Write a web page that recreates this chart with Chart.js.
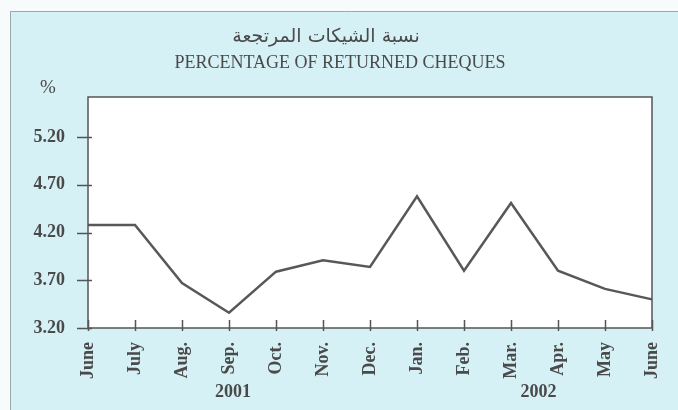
<!DOCTYPE html>
<html>
<head>
<meta charset="utf-8">
<script src="https://cdn.jsdelivr.net/npm/chart.js@4/dist/chart.umd.min.js"></script>
<style>
  html, body { margin: 0; padding: 0; background: #f7fbfb; }
  #wrap { width: 678px; height: 410px; }
</style>
</head>
<body>
<div id="wrap"><canvas id="myChart" width="678" height="410"></canvas></div>
<script>
'use strict';

// data
let months = [ 'June', 'July', 'Aug.', 'Sep.', 'Oct.', 'Nov.', 'Dec.', 'Jan.', 'Feb.', 'Mar.', 'Apr.', 'May', 'June' ];
let monthYears = [ 2001, 2001, 2001, 2001, 2001, 2001, 2001, 2002, 2002, 2002, 2002, 2002, 2002 ];
let returned = [ 4.28, 4.28, 3.67, 3.36, 3.79, 3.91, 3.84, 4.58, 3.80, 4.51, 3.80, 3.61, 3.50 ];
let yTicks = [ 3.20, 3.70, 4.20, 4.70, 5.20 ];
let titleAr = 'نسبة الشيكات المرتجعة';
let titleEn = 'PERCENTAGE OF RETURNED CHEQUES';
let unitLabel = '%';

let ink = '#4a4a4a';
let serif = '"Liberation Serif", "Times New Roman", serif';

// panel, white plot area, frame, crossing ticks, year labels
let decor = {
  id: 'decor',
  beforeDraw( chart ) {
    let ctx = chart.ctx;
    let a = chart.chartArea;
    ctx.save();
    ctx.fillStyle = '#d6f1f6';
    ctx.fillRect( 10, 11, chart.width - 10, chart.height - 11 );
    ctx.strokeStyle = '#9aa9ad';
    ctx.lineWidth = 1;
    ctx.beginPath();
    ctx.moveTo( 10.5, chart.height );
    ctx.lineTo( 10.5, 11.5 );
    ctx.lineTo( chart.width, 11.5 );
    ctx.stroke();
    ctx.fillStyle = '#ffffff';
    ctx.fillRect( a.left, a.top, a.right - a.left, a.bottom - a.top );
    ctx.restore();
  },
  afterDraw( chart ) {
    let ctx = chart.ctx;
    let a = chart.chartArea;
    let x = chart.scales.x;
    let y = chart.scales.y;
    ctx.save();
    ctx.strokeStyle = '#555555';
    ctx.lineWidth = 1.5;
    ctx.strokeRect( a.left, a.top, a.right - a.left, a.bottom - a.top );

    ctx.beginPath();
    for( let i = 0; i < yTicks.length; i++ ) {
      let py = Math.round( y.getPixelForValue( yTicks[i] ) ) + 0.5;
      ctx.moveTo( a.left - 11, py );
      ctx.lineTo( a.left + 4, py );
    }
    for( let i = 0; i < months.length; i++ ) {
      let px = Math.round( x.getPixelForValue( i ) ) + 0.5;
      ctx.moveTo( px, a.bottom - 8 );
      ctx.lineTo( px, a.bottom + 3 );
    }
    ctx.stroke();

    // titles
    ctx.fillStyle = ink;
    ctx.textAlign = 'center';
    ctx.textBaseline = 'middle';
    ctx.font = '19px "DejaVu Sans", "Noto Sans", sans-serif';
    ctx.fillText( titleAr, 326, 37 );
    ctx.font = '18px ' + serif;
    ctx.fillText( titleEn, 340, 63 );
    ctx.font = '19px ' + serif;
    ctx.fillText( unitLabel, 48, 88 );

    // year labels under each group of months
    ctx.font = 'bold 18px ' + serif;
    let years = [ ...new Set( monthYears ) ];
    for( let j = 0; j < years.length; j++ ) {
      let idx = [];
      monthYears.forEach( ( yr, i ) => { if( yr === years[j] ) idx.push( i ); } );
      let mid = ( idx[0] + idx[idx.length - 1] ) / 2;
      ctx.fillText( String( years[j] ), x.getPixelForValue( mid ) + 4, 392 );
    }
    ctx.restore();
  }
};

let ctx = document.getElementById( 'myChart' ).getContext( '2d' );

let myChart = new Chart( ctx, {
  type: 'line',
  data: {
    labels: months,
    datasets: [{
      data: returned,
      borderColor: '#585858',
      borderWidth: 2.5,
      pointRadius: 0,
      tension: 0,
      fill: false
    }]
  },
  options: {
    responsive: false,
    animation: false,
    devicePixelRatio: 1,
    layout: { padding: { left: 0, top: 97, right: 26, bottom: 0 } },
    plugins: {
      legend: { display: false },
      tooltip: { enabled: false }
    },
    scales: {
      x: {
        type: 'category',
        offset: false,
        grid: { display: false },
        border: { display: false },
        ticks: {
          autoSkip: false,
          minRotation: 90,
          maxRotation: 90,
          padding: 6,
          color: ink,
          font: { family: serif, size: 18, weight: 'bold' }
        },
        afterFit( scale ) {
          scale.height = 82;
          scale.paddingLeft = 0;
          scale.paddingRight = 0;
        }
      },
      y: {
        min: 3.20,
        max: 5.62,
        grid: { display: false },
        border: { display: false },
        afterBuildTicks( scale ) {
          scale.ticks = yTicks.map( v => ( { value: v } ) );
        },
        ticks: {
          padding: 15,
          color: ink,
          font: { family: serif, size: 18, weight: 'bold' },
          callback: v => v.toFixed( 2 )
        },
        afterFit( scale ) { scale.width = 88; }
      }
    }
  },
  plugins: [ decor ]
} );
</script>
</body>
</html>
